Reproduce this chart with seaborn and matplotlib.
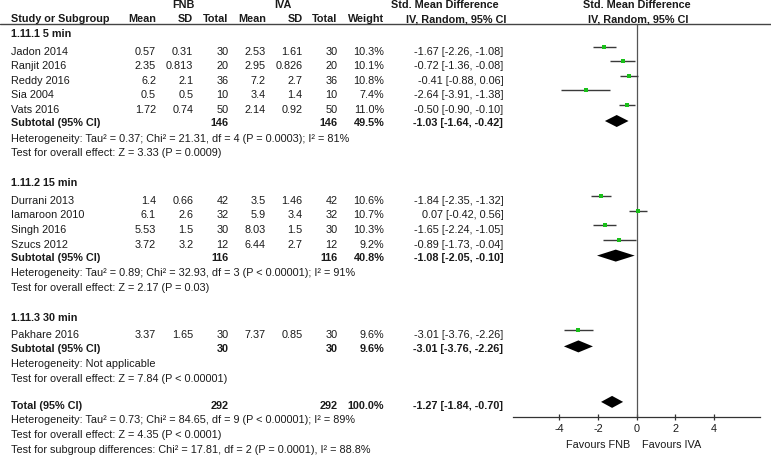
import matplotlib
matplotlib.use("Agg")
import matplotlib.pyplot as plt
import seaborn as sns
import pandas as pd

# ---------------- data ----------------
studies = ["Jadon 2014", "Ranjit 2016", "Reddy 2016", "Sia 2004", "Vats 2016",
           "Durrani 2013", "Iamaroon 2010", "Singh 2016", "Szucs 2012",
           "Pakhare 2016"]
study_group = [0, 0, 0, 0, 0, 1, 1, 1, 1, 2]
fnb_mean = [0.57, 2.35, 6.2, 0.5, 1.72, 1.4, 6.1, 5.53, 3.72, 3.37]
fnb_sd = [0.31, 0.813, 2.1, 0.5, 0.74, 0.66, 2.6, 1.5, 3.2, 1.65]
fnb_n = [30, 20, 36, 10, 50, 42, 32, 30, 12, 30]
iva_mean = [2.53, 2.95, 7.2, 3.4, 2.14, 3.5, 5.9, 8.03, 6.44, 7.37]
iva_sd = [1.61, 0.826, 2.7, 1.4, 0.92, 1.46, 3.4, 1.5, 2.7, 0.85]
iva_n = [30, 20, 36, 10, 50, 42, 32, 30, 12, 30]
weight = [10.3, 10.1, 10.8, 7.4, 11.0, 10.6, 10.7, 10.3, 9.2, 9.6]
smd = [-1.67, -0.72, -0.41, -2.64, -0.50, -1.84, 0.07, -1.65, -0.89, -3.01]
ci_lo = [-2.26, -1.36, -0.88, -3.91, -0.90, -2.35, -0.42, -2.24, -1.73, -3.76]
ci_hi = [-1.08, -0.08, 0.06, -1.38, -0.10, -1.32, 0.56, -1.05, -0.04, -2.26]

group_names = ["1.11.1 5 min", "1.11.2 15 min", "1.11.3 30 min"]
sub_fnb_n = [146, 116, 30]
sub_iva_n = [146, 116, 30]
sub_weight = [49.5, 40.8, 9.6]
sub_smd = [-1.03, -1.08, -3.01]
sub_lo = [-1.64, -2.05, -3.76]
sub_hi = [-0.42, -0.10, -2.26]
sub_het = ["Heterogeneity: Tau² = 0.37; Chi² = 21.31, df = 4 (P = 0.0003); I² = 81%",
           "Heterogeneity: Tau² = 0.89; Chi² = 32.93, df = 3 (P < 0.00001); I² = 91%",
           "Heterogeneity: Not applicable"]
sub_test = ["Test for overall effect: Z = 3.33 (P = 0.0009)",
            "Test for overall effect: Z = 2.17 (P = 0.03)",
            "Test for overall effect: Z = 7.84 (P < 0.00001)"]

total_fnb_n = 292
total_iva_n = 292
total_weight = 100.0
total_smd = -1.27
total_lo = -1.84
total_hi = -0.70
total_het = "Heterogeneity: Tau² = 0.73; Chi² = 84.65, df = 9 (P < 0.00001); I² = 89%"
total_test = "Test for overall effect: Z = 4.35 (P < 0.0001)"
subgroup_test = "Test for subgroup differences: Chi² = 17.81, df = 2 (P = 0.0001), I² = 88.8%"

x_ticks = [-4, -2, 0, 2, 4]
favours_left = "Favours FNB"
favours_right = "Favours IVA"

# ---------------- style ----------------
sns.set_style("white")
plt.rcParams["font.family"] = ["Liberation Sans", "DejaVu Sans"]
plt.rcParams["axes.unicode_minus"] = False
FS = 7.85
TXT = "#1a1a1a"
GREEN = "#19c019"

W, H = 771, 459
fig = plt.figure(figsize=(W / 100, H / 100), dpi=100)
tax = fig.add_axes([0, 0, 1, 1])
tax.set_xlim(0, W)
tax.set_ylim(H, 0)
tax.axis("off")

# forest axes (pixel rows on y)
px0, px1 = 513.3, 760.0
fax = fig.add_axes([px0 / W, 0, (px1 - px0) / W, 1])
fax.set_xlim(-6.375, 6.375)
fax.set_ylim(H, 0)
fax.patch.set_alpha(0)

# ---------------- layout rows ----------------
STEP = 14.6
rows = {}
y = 34.3
study_rows = []
for g in range(len(group_names)):
    rows[("gh", g)] = y
    y += 17.4
    n_in = [i for i in range(len(studies)) if study_group[i] == g]
    for k, i in enumerate(n_in):
        study_rows.append((i, y))
        if k < len(n_in) - 1:
            y += STEP
    y += 13.4
    rows[("sub", g)] = y
    y += 15.2
    rows[("het", g)] = y
    y += 14.8
    rows[("test", g)] = y
    y += 30
total_y = y - 3
study_y = dict(study_rows)

# column right edges
col_right = {"fm": 156, "fs": 193.3, "fn": 228.3, "im": 265.7, "is": 302.7,
             "in": 337.7, "w": 384.3, "ci": 503.3}
xl = 11

def t(x, yy, s, ha="right", bold=False):
    tax.text(x, yy, s, ha=ha, va="center", fontsize=FS, color=TXT,
             fontweight="bold" if bold else "normal")

# headers
t(183.7, 5, "FNB", ha="center", bold=True)
t(283.3, 5, "IVA", ha="center", bold=True)
t(445, 5, "Std. Mean Difference", ha="center", bold=True)
t(637, 5, "Std. Mean Difference", ha="center", bold=True)
h2 = 19.3
t(xl, h2, "Study or Subgroup", ha="left", bold=True)
t(col_right["fm"], h2, "Mean", bold=True)
t(col_right["fs"], h2, "SD", bold=True)
t(col_right["fn"], h2, "Total", bold=True)
t(col_right["im"], h2, "Mean", bold=True)
t(col_right["is"], h2, "SD", bold=True)
t(col_right["in"], h2, "Total", bold=True)
t(col_right["w"], h2, "Weight", bold=True)
t(456, h2, "IV, Random, 95% CI", ha="center", bold=True)
t(638, h2, "IV, Random, 95% CI", ha="center", bold=True)
tax.plot([0, W], [24, 24], color="#444444", lw=1.0)

def fmt_ci(e, a, b):
    return f"{e:.2f} [{a:.2f}, {b:.2f}]"

for i, name in enumerate(studies):
    yy = study_y[i]
    t(xl, yy, name, ha="left")
    t(col_right["fm"], yy, f"{fnb_mean[i]}")
    t(col_right["fs"], yy, f"{fnb_sd[i]}")
    t(col_right["fn"], yy, f"{fnb_n[i]}")
    t(col_right["im"], yy, f"{iva_mean[i]}")
    t(col_right["is"], yy, f"{iva_sd[i]}")
    t(col_right["in"], yy, f"{iva_n[i]}")
    t(col_right["w"], yy, f"{weight[i]:.1f}%")
    t(col_right["ci"], yy, fmt_ci(smd[i], ci_lo[i], ci_hi[i]))

for g, gname in enumerate(group_names):
    t(xl, rows[("gh", g)], gname, ha="left", bold=True)
    ys = rows[("sub", g)]
    t(xl, ys, "Subtotal (95% CI)", ha="left", bold=True)
    t(col_right["fn"], ys, f"{sub_fnb_n[g]}", bold=True)
    t(col_right["in"], ys, f"{sub_iva_n[g]}", bold=True)
    t(col_right["w"], ys, f"{sub_weight[g]:.1f}%", bold=True)
    t(col_right["ci"], ys, fmt_ci(sub_smd[g], sub_lo[g], sub_hi[g]), bold=True)
    t(xl, rows[("het", g)], sub_het[g], ha="left")
    t(xl, rows[("test", g)], sub_test[g], ha="left")

t(xl, total_y, "Total (95% CI)", ha="left", bold=True)
t(col_right["fn"], total_y, f"{total_fnb_n}", bold=True)
t(col_right["in"], total_y, f"{total_iva_n}", bold=True)
t(col_right["w"], total_y, f"{total_weight:.1f}%", bold=True)
t(col_right["ci"], total_y, fmt_ci(total_smd, total_lo, total_hi), bold=True)
t(xl, total_y + STEP, total_het, ha="left")
t(xl, total_y + 2 * STEP, total_test, ha="left")
t(xl, total_y + 3 * STEP, subgroup_test, ha="left")

# ---------------- forest plot ----------------
axis_y = total_y + 11.3
fax.plot([0, 0], [24, axis_y], color="#555555", lw=0.9, zorder=1)

marker_y = [study_y[i] - 5 for i in range(len(studies))]
fax.hlines(marker_y, ci_lo, ci_hi, color="#3a3a3a", lw=1.0, zorder=2)
df = pd.DataFrame({"smd": smd, "y": marker_y, "w": weight})
sns.scatterplot(data=df, x="smd", y="y", ax=fax, marker="s", color=GREEN,
                s=9, linewidth=0, legend=False, zorder=3)

def diamond(e, a, b, yc, hh=6.0):
    fax.fill([a, e, b, e], [yc, yc - hh, yc, yc + hh], color="black", lw=0, zorder=3)

for g in range(len(group_names)):
    diamond(sub_smd[g], sub_lo[g], sub_hi[g], rows[("sub", g)] - 2.5)
diamond(total_smd, total_lo, total_hi, total_y - 4)

for s in ["top", "right", "left"]:
    fax.spines[s].set_visible(False)
fax.spines["bottom"].set_position(("data", axis_y))
fax.spines["bottom"].set_color("#333333")
fax.spines["bottom"].set_linewidth(0.9)
fax.set_xticks(x_ticks)
fax.set_xticklabels([str(v) for v in x_ticks])
fax.tick_params(axis="x", direction="inout", length=4.5, width=0.9,
                color="#333333", labelsize=FS, labelcolor=TXT, pad=2.5,
                bottom=True)
fax.set_yticks([])
fax.set_xlabel("")
fax.set_ylabel("")

fy = axis_y + 27.7
tax.text(630, fy, favours_left, ha="right", va="center", fontsize=FS, color=TXT)
tax.text(642, fy, favours_right, ha="left", va="center", fontsize=FS, color=TXT)

fig.savefig("out.png", dpi=100)
